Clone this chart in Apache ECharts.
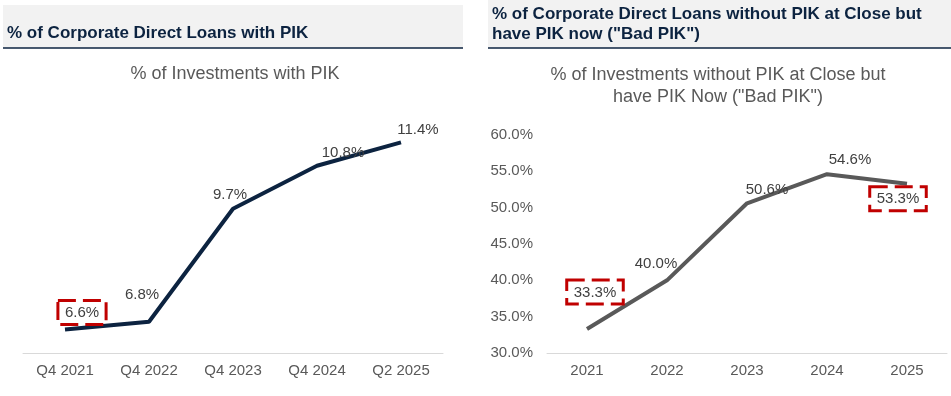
<!DOCTYPE html>
<html>
<head>
<meta charset="utf-8">
<script src="https://cdn.jsdelivr.net/npm/echarts@6/dist/echarts.min.js"></script>
<style>
  html, body { margin: 0; padding: 0; background: #fff; }
  #chart { width: 951px; height: 396px; }
</style>
</head>
<body>
<div id="chart"></div>
<script>
// 左图：含 PIK 的投资占比
const pikCategories = ['Q4 2021', 'Q4 2022', 'Q4 2023', 'Q4 2024', 'Q2 2025']
const pikValues = [6.6, 6.8, 9.7, 10.8, 11.4]
// 右图：Bad PIK 占比
const badCategories = ['2021', '2022', '2023', '2024', '2025']
const badValues = [33.3, 40.0, 50.6, 54.6, 53.3]
const badTicks = [30, 35, 40, 45, 50, 55, 60]

const FONT = 'Liberation Sans, Arial, sans-serif'
const NAVY = '#0c2340'
const RED = '#c00000'

// 红色虚线框
const boxStyle = {
  borderColor: RED,
  borderWidth: 3,
  borderType: [18, 7],
  padding: [5, 7, 4, 7],
}

// 每个标签的偏移（相对 top 位置）
const pikOffsets = [[17, 1], [-7, -13], [-3, 0], [26, 1], [17, 1]]
const badOffsets = [[8, -19], [-11, -3], [20, 0], [23, -1], [-9, 33]]
const pikBoxed = [true, false, false, false, false]
const badBoxed = [true, false, false, false, true]

function buildData(values, offsets, boxed) {
  return values.map((v, i) => ({
    value: v,
    label: Object.assign({ offset: offsets[i] }, boxed[i] ? boxStyle : {}),
  }))
}

const chart = echarts.init(document.getElementById('chart'))
const option = {
  animation: false,
  textStyle: { fontFamily: FONT },
  graphic: [
    { type: 'rect', shape: { x: 3, y: 5, width: 460, height: 43 }, style: { fill: '#f2f2f2' }, silent: true },
    { type: 'rect', shape: { x: 488, y: 0, width: 463, height: 48 }, style: { fill: '#f2f2f2' }, silent: true },
    { type: 'line', shape: { x1: 3, y1: 48, x2: 463, y2: 48 }, style: { stroke: NAVY, lineWidth: 1.5 }, silent: true },
    { type: 'line', shape: { x1: 488, y1: 48, x2: 951, y2: 48 }, style: { stroke: NAVY, lineWidth: 1.5 }, silent: true },
  ],
  title: [
    {
      text: '% of Corporate Direct Loans with PIK',
      left: 7,
      top: 25,
      padding: 0,
      textStyle: { fontFamily: FONT, fontSize: 17, fontWeight: 'bold', color: NAVY },
    },
    {
      text: '% of Corporate Direct Loans without PIK at Close but\nhave PIK now ("Bad PIK")',
      left: 492,
      top: 4,
      padding: 0,
      textStyle: { fontFamily: FONT, fontSize: 17, fontWeight: 'bold', color: NAVY, lineHeight: 20 },
    },
    {
      text: '% of Investments with PIK',
      left: 235,
      top: 65,
      padding: 0,
      textAlign: 'center',
      textStyle: { fontFamily: FONT, fontSize: 18, fontWeight: 'normal', color: '#595959' },
    },
    {
      text: '% of Investments without PIK at Close but\nhave PIK Now ("Bad PIK")',
      left: 718,
      top: 64,
      padding: 0,
      textAlign: 'center',
      textStyle: { fontFamily: FONT, fontSize: 18, fontWeight: 'normal', color: '#595959', lineHeight: 22 },
    },
  ],
  grid: [
    { left: 23, top: 119, width: 420, height: 234 },
    { left: 547, top: 135, width: 400, height: 218 },
  ],
  xAxis: [
    {
      type: 'category',
      gridIndex: 0,
      data: pikCategories,
      axisLine: { lineStyle: { color: '#d9d9d9', width: 1 } },
      axisTick: { show: false },
      axisLabel: { color: '#595959', fontSize: 15, fontFamily: FONT, margin: 10 },
    },
    {
      type: 'category',
      gridIndex: 1,
      data: badCategories,
      axisLine: { lineStyle: { color: '#d9d9d9', width: 1 } },
      axisTick: { show: false },
      axisLabel: { color: '#595959', fontSize: 15, fontFamily: FONT, margin: 10 },
    },
  ],
  yAxis: [
    {
      type: 'value',
      gridIndex: 0,
      min: 6,
      max: 12,
      show: false,
    },
    {
      type: 'value',
      gridIndex: 1,
      min: badTicks[0],
      max: badTicks[badTicks.length - 1],
      interval: 5,
      splitLine: { show: false },
      axisLine: { show: false },
      axisTick: { show: false },
      axisLabel: {
        color: '#595959',
        fontSize: 15,
        fontFamily: FONT,
        margin: 14,
        formatter: v => v.toFixed(1) + '%',
      },
    },
  ],
  series: [
    {
      type: 'line',
      xAxisIndex: 0,
      yAxisIndex: 0,
      data: buildData(pikValues, pikOffsets, pikBoxed),
      symbol: 'circle',
      symbolSize: 0.1,
      itemStyle: { color: NAVY },
      lineStyle: { color: NAVY, width: 4 },
      label: {
        show: true,
        position: 'top',
        distance: 6,
        color: '#404040',
        fontSize: 15,
        fontFamily: FONT,
        formatter: p => p.value.toFixed(1) + '%',
      },
    },
    {
      type: 'line',
      xAxisIndex: 1,
      yAxisIndex: 1,
      data: buildData(badValues, badOffsets, badBoxed),
      symbol: 'circle',
      symbolSize: 0.1,
      itemStyle: { color: '#595959' },
      lineStyle: { color: '#595959', width: 4 },
      label: {
        show: true,
        position: 'top',
        distance: 6,
        color: '#404040',
        fontSize: 15,
        fontFamily: FONT,
        formatter: p => p.value.toFixed(1) + '%',
      },
    },
  ],
}
chart.setOption(option)
window.addEventListener('resize', () => chart.resize())
</script>
</body>
</html>
